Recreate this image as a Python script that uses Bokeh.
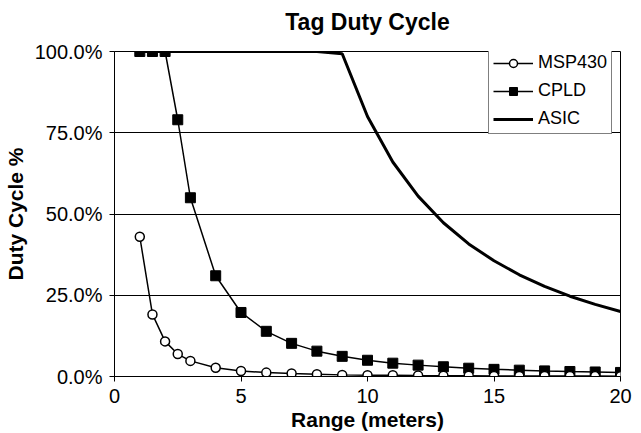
from bokeh.plotting import figure
from bokeh.models import NumeralTickFormatter, FixedTicker, Legend, LegendItem, Range1d, Title
from bokeh.embed import file_html
from bokeh.resources import INLINE

# Data (range in meters, duty cycle as fraction)
msp_x = [1, 1.5, 2, 2.5, 3, 4, 5, 6, 7, 8, 9, 10, 11, 12, 13, 14, 15, 16, 17, 18, 19, 20]
msp_y = [0.43, 0.191, 0.108, 0.069, 0.048, 0.027, 0.017, 0.012, 0.009, 0.007, 0.005,
         0.004, 0.0036, 0.003, 0.0025, 0.0022, 0.0019, 0.0017, 0.0015, 0.0013, 0.0012, 0.0011]

cpld_x = [1, 1.5, 2, 2.5, 3, 4, 5, 6, 7, 8, 9, 10, 11, 12, 13, 14, 15, 16, 17, 18, 19, 20]
cpld_y = [1.0, 1.0, 1.0, 0.79, 0.55, 0.31, 0.197, 0.139, 0.102, 0.078, 0.062, 0.05,
          0.041, 0.035, 0.030, 0.0255, 0.022, 0.0195, 0.0173, 0.0154, 0.0139, 0.0125]

asic_x = [1, 2, 3, 4, 5, 6, 7, 8, 9, 10, 11, 12, 13, 14, 15, 16, 17, 18, 19, 20]
asic_y = [1.0, 1.0, 1.0, 1.0, 1.0, 1.0, 1.0, 1.0, 0.993, 0.80, 0.66, 0.555, 0.473,
          0.408, 0.356, 0.313, 0.277, 0.247, 0.222, 0.20]

x_ticks = [0, 5, 10, 15, 20]
y_ticks = [0, 0.25, 0.5, 0.75, 1.0]

FONT = "Liberation Sans"

p = figure(width=641, height=433, output_backend="svg", toolbar_location=None,
           x_range=Range1d(0, 20), y_range=Range1d(0, 1),
           title=None,
           min_border_left=114, min_border_right=21, min_border_top=51, min_border_bottom=57)

# spacer between plot frame and title (inner), then the title (outer)
spacer = Title(text=" ", text_font_size="1px", standoff=14)
p.add_layout(spacer, "above")
main_title = Title(text="Tag Duty Cycle", align="center", text_font=FONT,
                   text_font_size="23px", text_font_style="bold", text_color="black",
                   standoff=0)
p.add_layout(main_title, "above")

p.outline_line_color = "black"
p.outline_line_width = 1
p.xgrid.grid_line_color = None
p.ygrid.grid_line_color = "black"
p.ygrid.grid_line_width = 1
p.ygrid.ticker = FixedTicker(ticks=y_ticks)

for ax in (p.xaxis[0], p.yaxis[0]):
    ax.axis_line_color = "black"
    ax.major_tick_line_color = "black"
    ax.minor_tick_line_color = None
    ax.major_tick_in = 0
    ax.major_tick_out = 5
    ax.major_label_text_font = FONT
    ax.major_label_text_font_size = "20px"
    ax.major_label_text_color = "black"
    ax.axis_label_text_font = FONT
    ax.axis_label_text_font_size = "21px"
    ax.axis_label_text_font_style = "bold"
    ax.axis_label_text_color = "black"

p.xaxis.ticker = FixedTicker(ticks=x_ticks)
p.yaxis.ticker = FixedTicker(ticks=y_ticks)
p.yaxis.formatter = NumeralTickFormatter(format="0.0%")
p.xaxis.axis_label = "Range (meters)"
p.yaxis.axis_label = "Duty Cycle %"
p.xaxis.major_label_standoff = 7
p.xaxis.axis_label_standoff = 2
p.yaxis.major_label_standoff = 7
p.yaxis.axis_label_standoff = 5

r_asic = p.line(asic_x, asic_y, line_color="black", line_width=3)
r_cpld_l = p.line(cpld_x, cpld_y, line_color="black", line_width=1.5)
r_cpld_m = p.scatter(cpld_x, cpld_y, marker="square", size=10, fill_color="black", line_color="black")
r_msp_l = p.line(msp_x, msp_y, line_color="black", line_width=1.5)
r_msp_m = p.scatter(msp_x, msp_y, marker="circle", size=9, fill_color="white", line_color="black", line_width=1.5)

legend = Legend(items=[
    LegendItem(label="MSP430", renderers=[r_msp_l, r_msp_m]),
    LegendItem(label="CPLD", renderers=[r_cpld_l, r_cpld_m]),
    LegendItem(label="ASIC", renderers=[r_asic]),
], location=(374, 242))
legend.label_text_font = FONT
legend.label_text_font_size = "18px"
legend.label_text_color = "black"
legend.glyph_width = 40
legend.glyph_height = 20
legend.label_height = 20
legend.label_standoff = 5
legend.spacing = 7
legend.padding = 4
legend.margin = 0
legend.border_line_color = "black"
legend.border_line_width = 1
legend.background_fill_color = "white"
legend.background_fill_alpha = 1
p.add_layout(legend, "center")

open("out.html", "w").write(file_html(p, INLINE))
